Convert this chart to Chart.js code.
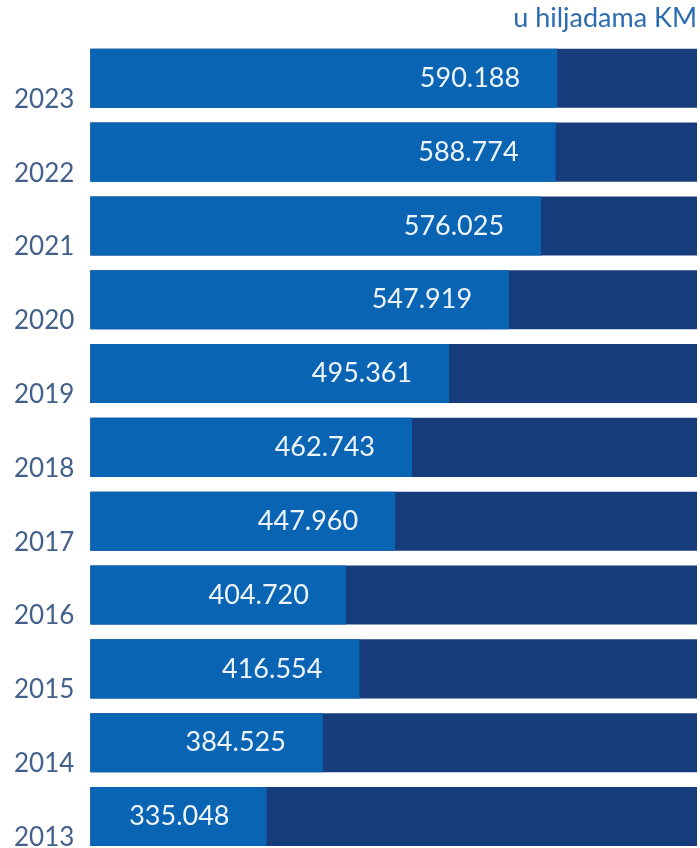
<!DOCTYPE html>
<html>
<head>
<meta charset="utf-8">
<script src="https://cdn.jsdelivr.net/npm/chart.js@4"></script>
<style>
  html, body { margin: 0; padding: 0; background: #ffffff; overflow: hidden; }
  #wrap { width: 700px; height: 877px; }
</style>
</head>
<body>
<div id="wrap"><canvas id="kmChart"></canvas></div>
<script>
// years, top to bottom
const years = ['2023', '2022', '2021', '2020', '2019', '2018', '2017', '2016', '2015', '2014', '2013'];
// values in thousands KM
const amounts = [590188, 588774, 576025, 547919, 495361, 462743, 447960, 404720, 416554, 384525, 335048];
const unitLabel = 'u hiljadama KM';

const axisMin = 180400;
const axisMax = 712900;

function fmt(n) {
    return String(n).replace(/\B(?=(\d{3})+(?!\d))/g, '.');
}

// draws the white value text inside the light bars
const valueLabels = {
    id: 'valueLabels',
    afterDatasetsDraw(chart) {
        const ctx = chart.ctx;
        const meta = chart.getDatasetMeta(0);
        ctx.save();
        ctx.font = '27px Lato';
        ctx.fillStyle = '#eef4fb';
        ctx.textAlign = 'right';
        ctx.textBaseline = 'middle';
        meta.data.forEach(function(bar, i) {
            ctx.fillText(fmt(amounts[i]), bar.x - 37, bar.y);
        });
        ctx.restore();
    }
};

new Chart(document.getElementById('kmChart'), {
    type: 'bar',
    data: {
        labels: years,
        datasets: [{
            data: amounts,
            backgroundColor: '#0a64b4',
            categoryPercentage: 1,
            barPercentage: 0.8
        }, {
            data: years.map(function() { return axisMax; }),
            backgroundColor: '#163c7b',
            categoryPercentage: 1,
            barPercentage: 0.8
        }]
    },
    options: {
        indexAxis: 'y',
        responsive: true,
        maintainAspectRatio: false,
        animation: false,
        layout: { padding: { left: 6, right: 3, top: 0, bottom: 5 } },
        scales: {
            x: {
                display: false,
                min: axisMin,
                max: axisMax
            },
            y: {
                stacked: true,
                grid: { display: false },
                border: { display: false },
                ticks: {
                    color: '#42608a',
                    font: { family: 'Lato', size: 26 },
                    padding: 8,
                    labelOffset: 21
                }
            }
        },
        plugins: {
            legend: { display: false },
            tooltip: { enabled: false },
            title: {
                display: true,
                text: unitLabel,
                align: 'end',
                color: '#2b6cb0',
                font: { family: 'Lato', size: 27, weight: 'normal' },
                padding: { top: 2, bottom: 7 }
            }
        }
    },
    plugins: [valueLabels]
});
</script>
</body>
</html>
